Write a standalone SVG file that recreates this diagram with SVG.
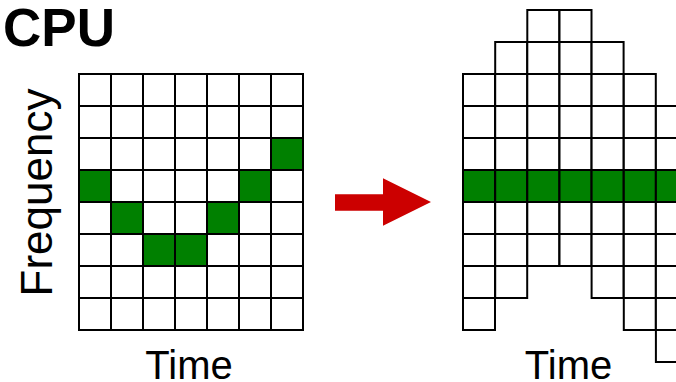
<svg xmlns="http://www.w3.org/2000/svg" xmlns:xlink="http://www.w3.org/1999/xlink" width="676" height="382" viewBox="0 0 676 382">
<style>
.w{fill:#ffffff;stroke:#000000;stroke-width:2}
.g{fill:#008000;stroke:#000000;stroke-width:2}
.t{font-family:"Liberation Sans",Arial,sans-serif;fill:#000000}
</style>
<defs>
<rect id="k" width="32" height="32"/>
<g id="col8">
<use xlink:href="#k" y="0" class="w"/><use xlink:href="#k" y="32" class="w"/><use xlink:href="#k" y="64" class="w"/><use xlink:href="#k" y="96" class="w"/><use xlink:href="#k" y="128" class="w"/><use xlink:href="#k" y="160" class="w"/><use xlink:href="#k" y="192" class="w"/><use xlink:href="#k" y="224" class="w"/>
</g>
</defs>
<rect width="676" height="382" fill="#ffffff"/>
<g id="title"><text class="t" x="3" y="46" font-size="53" font-weight="bold">CPU</text></g>
<g id="left-grid">
<use xlink:href="#col8" x="79" y="74"/><use xlink:href="#col8" x="111" y="74"/><use xlink:href="#col8" x="143" y="74"/><use xlink:href="#col8" x="175" y="74"/><use xlink:href="#col8" x="207" y="74"/><use xlink:href="#col8" x="239" y="74"/><use xlink:href="#col8" x="271" y="74"/>
<use xlink:href="#k" x="271" y="138" class="g"/>
<use xlink:href="#k" x="79" y="170" class="g"/>
<use xlink:href="#k" x="239" y="170" class="g"/>
<use xlink:href="#k" x="111" y="202" class="g"/>
<use xlink:href="#k" x="207" y="202" class="g"/>
<use xlink:href="#k" x="143" y="234" class="g"/>
<use xlink:href="#k" x="175" y="234" class="g"/>
</g>
<g id="left-labels">
<text class="t" font-size="44" text-anchor="middle" transform="translate(52,192.5) rotate(-90)">Frequency</text>
<text class="t" x="189" y="379" font-size="40" text-anchor="middle">Time</text>
</g>
<g id="connectors">
<polygon points="335,194.3 383,194.3 383,178.3 431,202 383,225.7 383,210.7 335,210.7" fill="#cc0000"/>
</g>
<g id="right-grid">
<use xlink:href="#col8" x="463" y="74"/>
<use xlink:href="#col8" x="495.2" y="42"/>
<use xlink:href="#col8" x="527.3" y="10"/>
<use xlink:href="#col8" x="559.5" y="10"/>
<use xlink:href="#col8" x="591.6" y="42"/>
<use xlink:href="#col8" x="623.8" y="74"/>
<use xlink:href="#col8" x="655.9" y="106"/>
<use xlink:href="#k" x="463" y="170" class="g"/>
<use xlink:href="#k" x="495.2" y="170" class="g"/>
<use xlink:href="#k" x="527.3" y="170" class="g"/>
<use xlink:href="#k" x="559.5" y="170" class="g"/>
<use xlink:href="#k" x="591.6" y="170" class="g"/>
<use xlink:href="#k" x="623.8" y="170" class="g"/>
<use xlink:href="#k" x="655.9" y="170" class="g"/>
</g>
<g id="right-labels">
<text class="t" x="568.5" y="379" font-size="40" text-anchor="middle">Time</text>
</g>
</svg>
